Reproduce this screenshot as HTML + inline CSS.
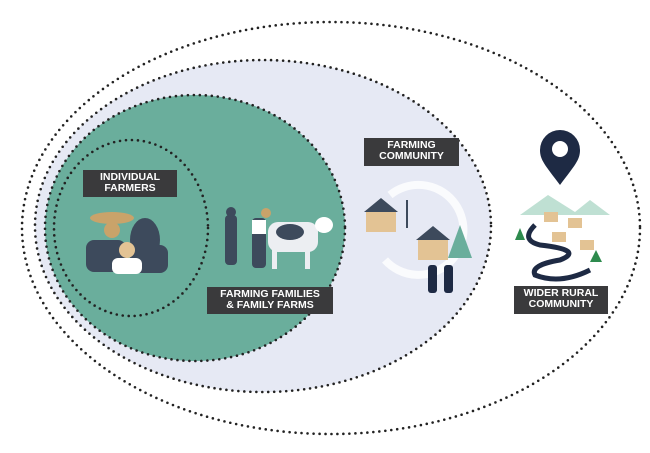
<!DOCTYPE html>
<html><head><style>
html,body{margin:0;padding:0;background:#fff;}
.lbl{position:absolute;background:#3a3a3c;color:#fff;font-family:"Liberation Sans",sans-serif;font-weight:bold;font-size:10.5px;line-height:11px;text-align:center;padding:2px 0;box-sizing:border-box;}
</style></head><body>
<div style="position:relative;width:650px;height:453px;overflow:hidden;">
<svg width="650" height="453" style="position:absolute;left:0;top:0">
<g stroke="#222" stroke-width="2.6" stroke-dasharray="0 6" stroke-linecap="round">
<ellipse cx="331" cy="228" rx="309" ry="206" fill="none"/>
<ellipse cx="263" cy="226" rx="228" ry="166" fill="#e6e9f4"/>
<ellipse cx="195" cy="228" rx="150" ry="133" fill="#6aae9c"/>
<ellipse cx="131" cy="228" rx="77" ry="88" fill="none"/>
</g>
<!-- individual farmers -->
<ellipse cx="112" cy="218" rx="22" ry="6" fill="#c9a36a"/>
<circle cx="112" cy="230" r="8" fill="#c9a36a"/>
<rect x="86" y="240" width="40" height="32" rx="8" fill="#3d4a5c"/>
<ellipse cx="145" cy="240" rx="15" ry="22" fill="#3d4a5c"/>
<rect x="130" y="245" width="38" height="28" rx="8" fill="#3d4a5c"/>
<circle cx="127" cy="250" r="8" fill="#e3c394"/>
<rect x="112" y="258" width="30" height="16" rx="6" fill="#fff"/>
<!-- family farms -->
<rect x="225" y="215" width="12" height="50" rx="4" fill="#3d4a5c"/>
<circle cx="231" cy="212" r="5" fill="#3d4a5c"/>
<rect x="252" y="218" width="14" height="50" rx="4" fill="#3d4a5c"/>
<rect x="252" y="220" width="14" height="14" fill="#fff"/>
<circle cx="266" cy="213" r="5" fill="#c9a36a"/>
<rect x="268" y="222" width="50" height="30" rx="10" fill="#eceef2"/>
<ellipse cx="290" cy="232" rx="14" ry="8" fill="#3d4a5c"/>
<rect x="272" y="245" width="5" height="24" fill="#eceef2"/>
<rect x="305" y="245" width="5" height="24" fill="#eceef2"/>
<ellipse cx="324" cy="225" rx="9" ry="8" fill="#fff"/>
<!-- farming community -->
<path d="M390 195 A45 45 0 1 1 385 260" fill="none" stroke="#fff" stroke-width="8" opacity="0.8"/>
<rect x="366" y="210" width="30" height="22" fill="#e3c394"/><path d="M364 212 L381 198 L398 212Z" fill="#3d4a5c"/>
<rect x="418" y="238" width="30" height="22" fill="#e3c394"/><path d="M416 240 L433 226 L450 240Z" fill="#3d4a5c"/>
<path d="M448 258 L460 225 L472 258Z" fill="#6aae9c"/>
<line x1="407" y1="200" x2="407" y2="228" stroke="#3d4a5c" stroke-width="2"/>
<rect x="428" y="265" width="9" height="28" rx="3" fill="#1e2a44"/><rect x="444" y="265" width="9" height="28" rx="3" fill="#1e2a44"/>
<!-- wider rural -->
<path d="M560 185 C545 165 540 160 540 150 A20 20 0 0 1 580 150 C580 160 575 165 560 185Z" fill="#1e2a44"/>
<circle cx="560" cy="149" r="8" fill="#fff"/>
<path d="M520 215 L548 195 L575 212 L590 200 L610 215Z" fill="#bfe0d3"/>
<path d="M535 225 Q520 240 540 245 Q585 250 560 260 Q530 265 535 275 Q560 285 590 270" fill="none" stroke="#1e2a44" stroke-width="5"/>
<rect x="544" y="212" width="14" height="10" fill="#e3c394"/><rect x="568" y="218" width="14" height="10" fill="#e3c394"/><rect x="552" y="232" width="14" height="10" fill="#e3c394"/><rect x="580" y="240" width="14" height="10" fill="#e3c394"/>
<path d="M515 240 L520 228 L525 240Z M590 262 L596 250 L602 262Z" fill="#2e8b4e"/>
</svg>
<div class="lbl" style="left:83px;top:170px;width:94px;height:27px;">INDIVIDUAL<br>FARMERS</div>
<div class="lbl" style="left:207px;top:287px;width:126px;height:27px;">FARMING FAMILIES<br>&amp; FAMILY FARMS</div>
<div class="lbl" style="left:364px;top:138px;width:95px;height:28px;">FARMING<br>COMMUNITY</div>
<div class="lbl" style="left:514px;top:286px;width:94px;height:28px;">WIDER RURAL<br>COMMUNITY</div>
</div>
</body></html>
